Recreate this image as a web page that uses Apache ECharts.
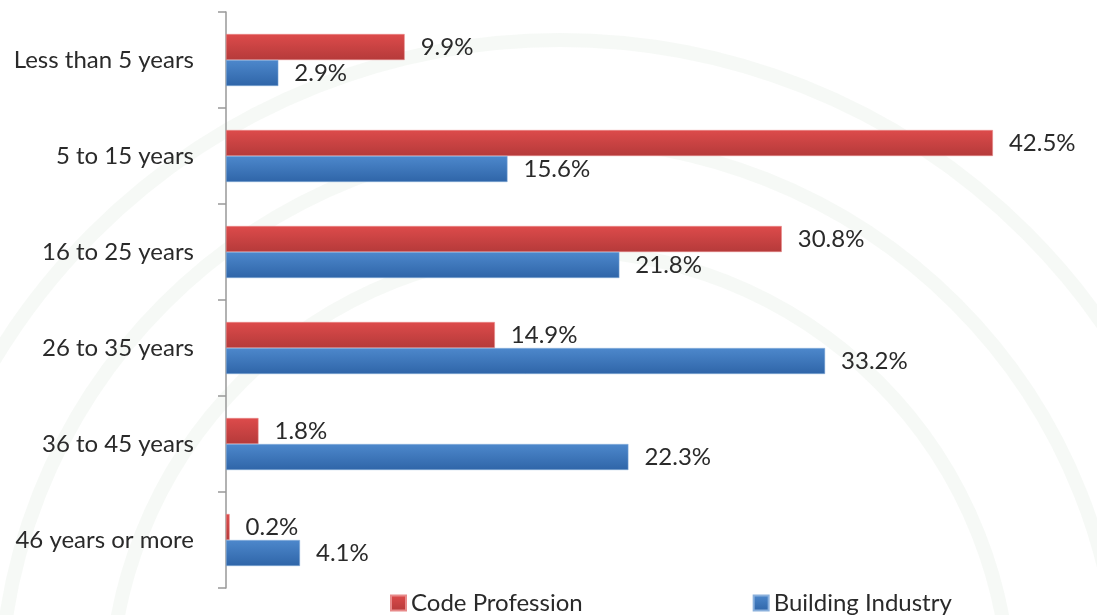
<!DOCTYPE html>
<html>
<head>
<meta charset="utf-8">
<script src="https://cdn.jsdelivr.net/npm/echarts@6/dist/echarts.min.js"></script>
<style>
  html, body { margin: 0; padding: 0; background: #fff; }
  #bar_chart { width: 1097px; height: 615px; }
</style>
</head>
<body>
<div id="bar_chart"></div>
<script>
var categories = ["Less than 5 years", "5 to 15 years", "16 to 25 years", "26 to 35 years", "36 to 45 years", "46 years or more"];
var codeProfession = [9.9, 42.5, 30.8, 14.9, 1.8, 0.2];
var buildingIndustry = [2.9, 15.6, 21.8, 33.2, 22.3, 4.1];

var chartDom = document.getElementById("bar_chart");
var myChart = echarts.init(chartDom);
var option;

var font = "Lato, 'Open Sans', sans-serif";

// faint globe wireframe behind the chart
var globe = [];
var arcs = [
  { cx: 560, cy: 700, r: 660 },
  { cx: 560, cy: 700, r: 560 },
  { cx: 560, cy: 700, r: 450 }
];
arcs.forEach(function (a) {
  globe.push({
    type: "arc",
    silent: true,
    z: -10,
    shape: { cx: a.cx, cy: a.cy, r: a.r, startAngle: Math.PI, endAngle: 2 * Math.PI },
    style: { stroke: "rgba(150,190,150,0.09)", lineWidth: 14, fill: null }
  });
});

option = {
  backgroundColor: "#fff",
  graphic: globe,
  legend: {
    bottom: -5,
    left: 385,
    itemGap: 170,
    itemWidth: 15,
    itemHeight: 15,
    icon: "rect",
    textStyle: { fontFamily: font, fontSize: 24, color: "#2a2a2a" },
    data: ["Code Profession", "Building Industry"]
  },
  grid: {
    left: 226,
    top: 12,
    width: 812,
    height: 576,
    containLabel: false
  },
  xAxis: {
    type: "value",
    min: 0,
    max: 45,
    show: false
  },
  yAxis: {
    type: "category",
    inverse: true,
    data: categories,
    axisLine: { lineStyle: { color: "#999", width: 1.5 } },
    axisTick: { show: true, inside: false, length: 8, lineStyle: { color: "#999", width: 1.5 } },
    axisLabel: { fontFamily: font, fontSize: 24, color: "#2a2a2a", margin: 32 }
  },
  series: [
    {
      name: "Code Profession",
      type: "bar",
      data: codeProfession,
      barWidth: 26,
      barGap: "0%",
      itemStyle: {
        color: new echarts.graphic.LinearGradient(0, 0, 0, 1, [
          { offset: 0, color: "#dd4b4b" },
          { offset: 1, color: "#b53a3a" }
        ]),
        borderColor: "#e88a8a",
        borderWidth: 0.5
      },
      label: {
        show: true,
        position: "right",
        distance: 16,
        formatter: "{c}%",
        fontFamily: font,
        fontSize: 24,
        color: "#2a2a2a"
      }
    },
    {
      name: "Building Industry",
      type: "bar",
      data: buildingIndustry,
      barWidth: 26,
      barGap: "0%",
      itemStyle: {
        color: new echarts.graphic.LinearGradient(0, 0, 0, 1, [
          { offset: 0, color: "#4d88cc" },
          { offset: 1, color: "#2f65a8" }
        ]),
        borderColor: "#8ab0dc",
        borderWidth: 0.5
      },
      label: {
        show: true,
        position: "right",
        distance: 16,
        formatter: "{c}%",
        fontFamily: font,
        fontSize: 24,
        color: "#2a2a2a"
      }
    }
  ]
};

option && myChart.setOption(option);
</script>
</body>
</html>
